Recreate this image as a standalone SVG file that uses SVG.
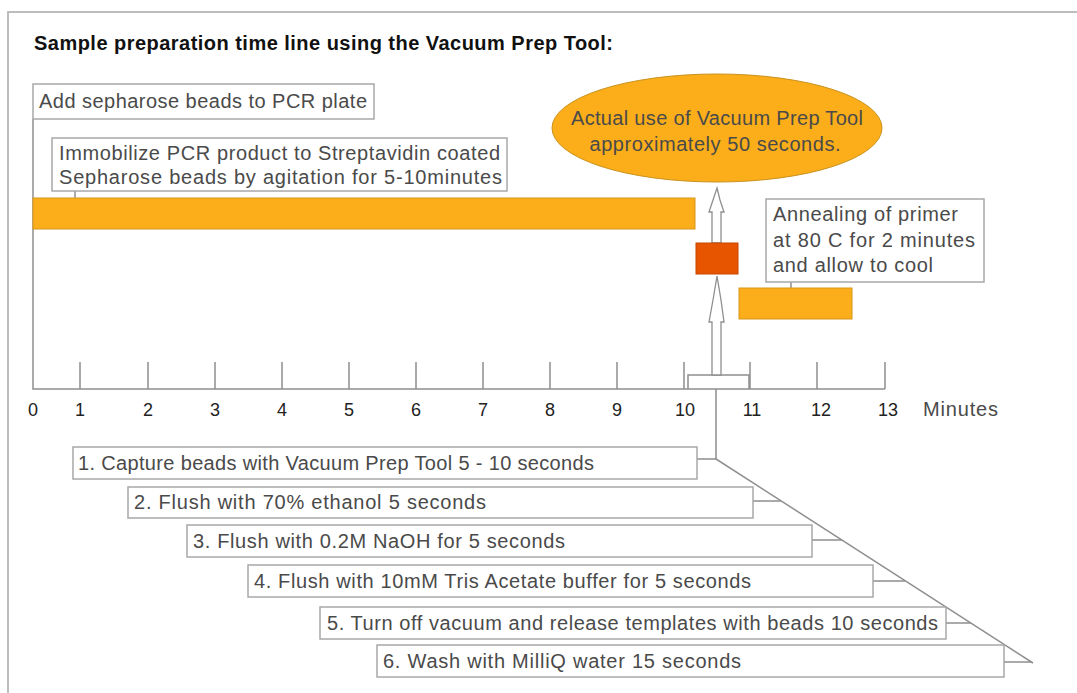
<svg xmlns="http://www.w3.org/2000/svg" width="1077" height="693" viewBox="0 0 1077 693">
<style>
text{font-family:"Liberation Sans",Arial,sans-serif;fill:#4a4a4a;font-size:20px}
.title{font-weight:bold;fill:#111;font-size:20px}
.box{fill:#fff;stroke:#a8a8a8;stroke-width:1.5}
.bar{fill:#FBAE1A;stroke:#D9951A;stroke-width:1}
.ln{fill:none;stroke:#8f8f8f;stroke-width:1.5}
.arr{fill:#fff;stroke:#8f8f8f;stroke-width:1.3}
.tick{fill:#222;font-size:18px;text-anchor:middle}
.frame{fill:none;stroke:#bdbdbd;stroke-width:2}
</style>
<rect width="1077" height="693" fill="#fff"/>
<path class="frame" d="M8,693 V12 H1077"/>
<text class="title" x="34" y="50" textLength="579">Sample preparation time line using the Vacuum Prep Tool:</text>

<g id="connectors">
  <path class="ln" d="M33,119 V389 H885"/>
  <path class="ln" d="M75,191 V198"/>
  <path class="ln" d="M791,282 V288"/>
  <g id="ticks">
    <path class="ln" d="M80,362V389 M148,362V389 M215,362V389 M282,362V389 M349,362V389 M416,362V389 M483,362V389 M550,362V389 M617,362V389 M684,362V389 M750,362V389 M817,362V389 M885,362V389"/>
  </g>
  <path class="ln" d="M688,389 V375 H749 V389"/>
  <path class="arr" d="M717,188 L720,200 L724,212 L721,212 L721,243 L712,243 L712,212 L709,212 L713,200 Z"/>
  <path class="arr" d="M717,276 L721,300 L724,322 L721,322 L721,375 L712,375 L712,322 L709,322 L713,300 Z"/>
  <path class="ln" d="M716,389 V459 L1033,663"/>
  <path class="ln" d="M697,459 H716 M753,501 H781 M812,540 H842 M873,581 H905 M946,623 H971 M1004,662 H1031"/>
</g>

<g id="axis-labels">
  <text class="tick" x="33" y="416">0</text>
  <text class="tick" x="80" y="416">1</text>
  <text class="tick" x="148" y="416">2</text>
  <text class="tick" x="215" y="416">3</text>
  <text class="tick" x="282" y="416">4</text>
  <text class="tick" x="349" y="416">5</text>
  <text class="tick" x="416" y="416">6</text>
  <text class="tick" x="483" y="416">7</text>
  <text class="tick" x="550" y="416">8</text>
  <text class="tick" x="617" y="416">9</text>
  <text class="tick" x="685" y="416">10</text>
  <text class="tick" x="752" y="416">11</text>
  <text class="tick" x="821" y="416">12</text>
  <text class="tick" x="888" y="416">13</text>
  <text x="923" y="416" font-size="18" textLength="75">Minutes</text>
</g>

<g id="add-beads">
  <rect class="box" x="33" y="84" width="341" height="35"/>
  <text x="39" y="108" textLength="328">Add sepharose beads to PCR plate</text>
</g>
<g id="immobilize">
  <rect class="box" x="52" y="138" width="455" height="53"/>
  <text x="59" y="160" textLength="441">Immobilize PCR product to Streptavidin coated</text>
  <text x="59" y="184" textLength="443">Sepharose beads by agitation for 5-10minutes</text>
</g>
<g id="immobilize-bar">
  <rect class="bar" x="33" y="198" width="662" height="31"/>
</g>
<g id="vacuum-ellipse">
  <ellipse cx="717" cy="128" rx="165" ry="54" fill="#FBAE1A" stroke="#C9921E" stroke-width="1"/>
  <text x="717" y="125" text-anchor="middle" fill="#333" textLength="292">Actual use of Vacuum Prep Tool</text>
  <text x="715" y="151" text-anchor="middle" fill="#333" textLength="251">approximately 50 seconds.</text>
</g>
<g id="vacuum-box">
  <rect x="696" y="243" width="42" height="31" fill="#E85500" stroke="#C44800" stroke-width="1"/>
</g>
<g id="annealing">
  <rect class="box" x="766" y="199" width="218" height="83"/>
  <text x="773" y="221" textLength="185">Annealing of primer</text>
  <text x="773" y="247" textLength="202">at 80 C for 2 minutes</text>
  <text x="773" y="272" textLength="160">and allow to cool</text>
</g>
<g id="annealing-bar">
  <rect class="bar" x="739" y="288" width="113" height="31"/>
</g>

<g id="step1">
  <rect class="box" x="73" y="447" width="624" height="32"/>
  <text x="78" y="470" textLength="516">1. Capture beads with Vacuum Prep Tool 5 - 10 seconds</text>
</g>
<g id="step2">
  <rect class="box" x="128" y="487" width="625" height="31"/>
  <text x="134" y="509" textLength="352">2. Flush with 70% ethanol 5 seconds</text>
</g>
<g id="step3">
  <rect class="box" x="187" y="525" width="625" height="32"/>
  <text x="193" y="548" textLength="372">3. Flush with 0.2M NaOH for 5 seconds</text>
</g>
<g id="step4">
  <rect class="box" x="248" y="565" width="625" height="32"/>
  <text x="254" y="588" textLength="497">4. Flush with 10mM Tris Acetate buffer for 5 seconds</text>
</g>
<g id="step5">
  <rect class="box" x="320" y="607" width="626" height="32"/>
  <text x="327" y="630" textLength="611">5. Turn off vacuum and release templates with beads 10 seconds</text>
</g>
<g id="step6">
  <rect class="box" x="377" y="645" width="627" height="32"/>
  <text x="383" y="668" textLength="358">6. Wash with MilliQ water 15 seconds</text>
</g>
</svg>
